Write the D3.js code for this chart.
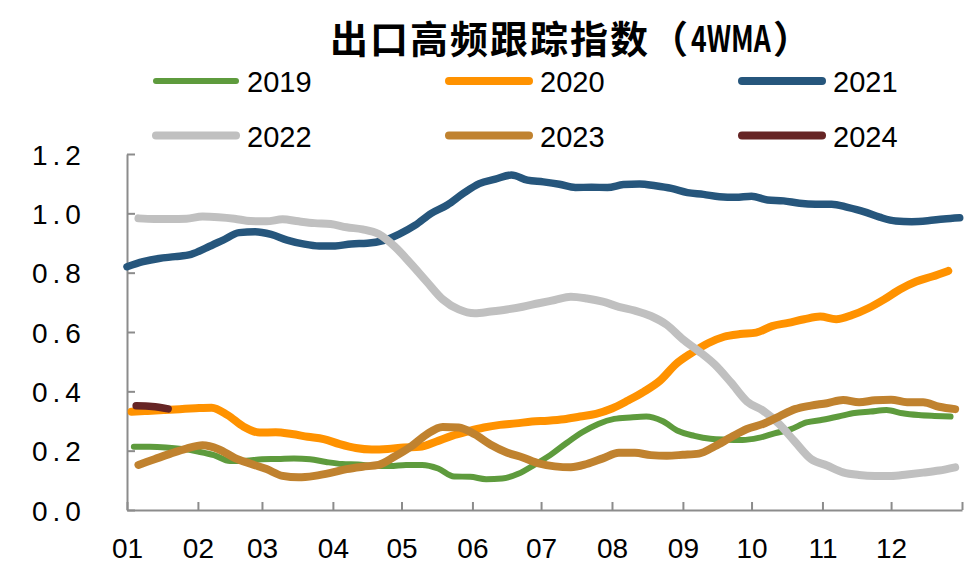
<!DOCTYPE html>
<html>
<head>
<meta charset="utf-8">
<script src="https://cdn.jsdelivr.net/npm/d3@7"></script>
<style>
  body { margin: 0; background: #fff; }
  svg { display: block; }
</style>
</head>
<body>
<div id="chart"></div>
<script>
'use strict';

// weekly 4WMA values
var years = ['2019', '2020', '2021', '2022', '2023', '2024'];
var colors = ['#5e9b3d', '#ff9200', '#26567c', '#c0c0c0', '#c0822f', '#662525'];
var widths = [6, 8, 7.5, 8, 8, 7.5];
var startDates = ['01-04', '01-03', '01-01', '01-06', '01-06', '01-05'];
var monthLabels = ['01','02','03','04','05','06','07','08','09','10','11','12'];
var yTicks = [0, 0.2, 0.4, 0.6, 0.8, 1.0, 1.2];

var s2019 = [0.213,0.213,0.211,0.206,0.197,0.185,0.165,0.166,0.171,0.172,
	0.174,0.171,0.162,0.155,0.153,0.149,0.148,0.152,0.152,0.14,
	0.113,0.112,0.104,0.106,0.122,0.152,0.185,0.225,0.262,0.29,
	0.307,0.312,0.315,0.3,0.266,0.25,0.24,0.237,0.236,0.243,
	0.258,0.272,0.295,0.304,0.315,0.327,0.332,0.337,0.326,0.32,
	0.317,0.315];
var s2020 = [0.331,0.334,0.337,0.34,0.343,0.345,0.32,0.281,0.261,0.262,
	0.256,0.247,0.239,0.222,0.209,0.204,0.206,0.211,0.213,0.23,
	0.25,0.265,0.278,0.287,0.292,0.298,0.301,0.306,0.315,0.324,
	0.342,0.369,0.399,0.436,0.492,0.53,0.562,0.584,0.593,0.598,
	0.62,0.631,0.643,0.652,0.643,0.657,0.68,0.71,0.744,0.77,
	0.787,0.806];
var s2021 = [0.82,0.837,0.848,0.854,0.862,0.885,0.91,0.935,0.938,0.929,
	0.91,0.897,0.89,0.89,0.897,0.899,0.908,0.93,0.96,1.0,
	1.028,1.067,1.10,1.115,1.129,1.112,1.106,1.098,1.087,1.088,
	1.087,1.097,1.099,1.093,1.084,1.07,1.064,1.056,1.054,1.058,
	1.045,1.042,1.034,1.031,1.031,1.02,1.006,0.987,0.974,0.972,
	0.975,0.981,0.985];
var s2022 = [0.983,0.981,0.981,0.982,0.989,0.987,0.982,0.974,0.973,0.98,
	0.973,0.967,0.964,0.953,0.946,0.93,0.888,0.831,0.77,0.71,
	0.676,0.663,0.669,0.676,0.685,0.697,0.708,0.719,0.713,0.702,
	0.685,0.672,0.654,0.624,0.575,0.535,0.49,0.43,0.366,0.335,
	0.29,0.23,0.172,0.15,0.127,0.118,0.115,0.115,0.12,0.126,
	0.133,0.144];
var s2023 = [0.152,0.171,0.19,0.207,0.218,0.205,0.176,0.156,0.138,0.115,
	0.11,0.115,0.125,0.138,0.146,0.152,0.18,0.213,0.255,0.28,
	0.278,0.255,0.22,0.194,0.177,0.157,0.147,0.144,0.155,0.174,
	0.193,0.193,0.185,0.183,0.186,0.19,0.215,0.245,0.273,0.29,
	0.315,0.34,0.352,0.36,0.371,0.363,0.37,0.372,0.363,0.363,
	0.348,0.34];
var s2024 = [0.351,0.349,0.341];

var seriesValues = [s2019, s2020, s2021, s2022, s2023, s2024];

var W = 975, H = 570;
var parseDay = d3.timeParse('%Y-%m-%d');
var baseYear = '2001-';

var svg = d3.select('#chart').append('svg')
	.attr('width', W)
	.attr('height', H);

var x = d3.scaleTime()
	.domain([parseDay('2001-01-01'), parseDay('2002-01-01')])
	.range([127, 962]);
var y = d3.scaleLinear()
	.domain([0, 1.2])
	.range([510, 154]);

var axisColor = '#8c8c8c';
var labelFont = '"Liberation Sans", Arial, sans-serif';
var cjkFont = '"Noto Sans CJK SC", sans-serif';

// title, in three pieces so the latin part can be squeezed like the original
var titleA = svg.append('text')
	.attr('x', 330)
	.attr('y', 53)
	.style('font-family', cjkFont)
	.style('font-weight', 'bold')
	.style('font-size', '38px')
	.style('letter-spacing', '2px')
	.text('出口高频跟踪指数（');
var ax = 330 + titleA.node().getComputedTextLength() - 2;
var titleB = svg.append('text')
	.attr('transform', 'translate(' + (ax + 3) + ',52) scale(0.74,1)')
	.style('font-family', cjkFont)
	.style('font-weight', 'bold')
	.style('font-size', '36px')
	.text('4WMA');
var bx = ax + 3 + 0.74 * titleB.node().getComputedTextLength();
svg.append('text')
	.attr('x', bx + 2)
	.attr('y', 53)
	.style('font-family', cjkFont)
	.style('font-weight', 'bold')
	.style('font-size', '38px')
	.text('）');

// legend
var legend = svg.selectAll('g.legend')
	.data(years)
	.enter()
	.append('g')
	.attr('class', 'legend')
	.attr('transform', function(d, i) { return 'translate(' + (156 + (i % 3) * 293) + ',' + (81 + Math.floor(i / 3) * 54.5) + ')'; });

legend.append('line')
	.attr('x1', 0)
	.attr('x2', 80)
	.attr('y1', 0)
	.attr('y2', 0)
	.attr('stroke', function(d, i) { return colors[i]; })
	.attr('stroke-width', function(d, i) { return i == 0 ? 6 : 8; })
	.attr('stroke-linecap', 'round');

legend.append('text')
	.attr('x', 91)
	.attr('y', 11)
	.style('font-family', labelFont)
	.style('font-size', '29px')
	.style('fill', '#000')
	.text(function(d) { return d; });

// axes
var xAxis = d3.axisBottom(x)
	.ticks(d3.timeMonth.every(1))
	.tickFormat(function(d, i) { return monthLabels[i]; })
	.tickSizeInner(-8)
	.tickSizeOuter(0)
	.tickPadding(28);

var gx = svg.append('g')
	.attr('transform', 'translate(0,510)')
	.call(xAxis);

gx.select('.domain').attr('stroke', axisColor).attr('stroke-width', 2);
gx.selectAll('.tick line').attr('stroke', axisColor).attr('stroke-width', 2);
gx.selectAll('.tick text')
	.attr('dy', '0.71em')
	.style('font-family', labelFont)
	.style('font-size', '28px')
	.style('fill', '#000');

var yAxis = d3.axisLeft(y)
	.tickValues(yTicks)
	.tickFormat(d3.format('.1f'))
	.tickSizeInner(-8)
	.tickSizeOuter(0);

var gy = svg.append('g')
	.attr('transform', 'translate(127,0)')
	.call(yAxis);

gy.select('.domain').attr('stroke', axisColor).attr('stroke-width', 2);
gy.selectAll('.tick line').attr('stroke', axisColor).attr('stroke-width', 2);
gy.selectAll('.tick text')
	.attr('x', -95)
	.attr('dy', '0.36em')
	.attr('text-anchor', 'start')
	.style('font-family', labelFont)
	.style('font-size', '28px')
	.style('letter-spacing', '5px')
	.style('fill', '#000');

// series lines
var line = d3.line()
	.x(function(d) { return x(d.date); })
	.y(function(d) { return y(d.value); })
	.curve(d3.curveMonotoneX);

function seriesPoints(k)
{
	var start = parseDay(baseYear + startDates[k]);
	return seriesValues[k].map(function(v, i) {
		return { date: d3.timeDay.offset(start, 7 * i), value: v };
	});
}

svg.append('g')
	.selectAll('path')
	.data(d3.range(years.length))
	.enter()
	.append('path')
	.attr('d', function(k) { return line(seriesPoints(k)); })
	.attr('fill', 'none')
	.attr('stroke', function(k) { return colors[k]; })
	.attr('stroke-width', function(k) { return widths[k]; })
	.attr('stroke-linecap', 'round')
	.attr('stroke-linejoin', 'round');
</script>
</body>
</html>
